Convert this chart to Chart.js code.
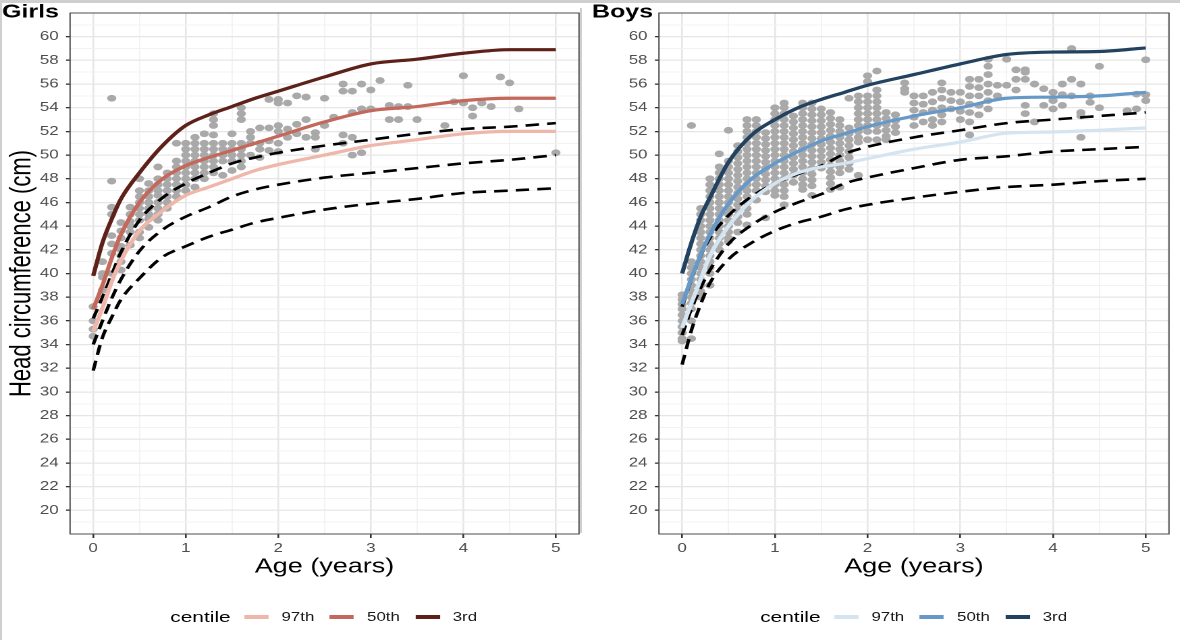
<!DOCTYPE html>
<html>
<head>
<meta charset="utf-8">
<script src="https://cdn.jsdelivr.net/npm/chart.js@4.4.1/dist/chart.umd.min.js"></script>
<style>
html, body { margin: 0; padding: 0; background: #fff; overflow: hidden; }
#page { position: absolute; left: 0; top: 0; width: 874px; height: 640px; transform: scaleX(1.35); transform-origin: 0 0; font-family: "Liberation Sans", Arial, sans-serif; }
.panel { position: absolute; top: 0; width: 437px; height: 640px; }
.legend { position: absolute; top: 605px; left: 57px; width: 377px; height: 24px; display: flex; justify-content: center; align-items: center; color: #1a1a1a; }
.legend .ttl { font-size: 15.5px; color: #000; margin-right: 10px; }
.legend .key { width: 18px; height: 4px; margin-right: 9.6px; }
.legend .lab { font-size: 12.5px; margin-right: 11.5px; }
.edge { position: absolute; background: #cfcfcf; }
</style>
</head>
<body>
<div id="page">
  <div class="panel" style="left:0"><canvas id="girls" width="437" height="640"></canvas><div class="legend" id="girlsLegend"></div></div>
  <div class="panel" style="left:437px"><canvas id="boys" width="437" height="640"></canvas><div class="legend" id="boysLegend"></div></div>
</div>
<div class="edge" style="left:0;top:0;width:1180px;height:3px"></div>
<div class="edge" style="left:0;top:0;width:1.5px;height:640px"></div>
<div class="edge" style="left:580px;top:8px;width:2px;height:525px"></div>
<script>
// ages at which the fitted centile / reference curves were read
const curveAges = [0, 0.1, 0.2, 0.3, 0.5, 0.75, 1, 1.25, 1.5, 1.75, 2, 2.5, 3, 3.5, 4, 4.5, 5]

const centileLabels = ['97th', '50th', '3rd']
const girlsColors = ['#efb6aa', '#c4685b', '#5e2119']
const boysColors = ['#d4e4f1', '#6699c8', '#22425f']

// girls fitted centiles (same order as centileLabels)
const girlsC97 = [35.1, 37.1, 39.3, 41.1, 43.6, 45.3, 46.6, 47.3, 48.0, 48.7, 49.2, 50.0, 50.8, 51.3, 51.8, 52.0, 52.0]
const girlsC50 = [37.0, 39.0, 41.3, 43.3, 46.0, 48.0, 49.1, 49.8, 50.4, 51.0, 51.6, 52.8, 53.75, 54.1, 54.6, 54.8, 54.8]
const girlsC3 = [39.8, 42.6, 44.6, 46.3, 48.5, 50.8, 52.5, 53.4, 54.1, 54.8, 55.4, 56.6, 57.7, 58.1, 58.6, 58.9, 58.9]
// girls reference (dashed)
const girlsRefHigh = [36.2, 38.0, 39.9, 41.8, 44.5, 46.4, 47.6, 48.5, 49.3, 49.8, 50.2, 50.8, 51.3, 51.8, 52.2, 52.4, 52.7]
const girlsRefMid = [34.0, 36.0, 37.9, 39.5, 41.9, 43.7, 44.8, 45.6, 46.5, 47.1, 47.5, 48.1, 48.5, 48.9, 49.3, 49.6, 50.0]
const girlsRefLow = [31.8, 34.6, 36.3, 37.8, 39.6, 41.4, 42.3, 43.1, 43.7, 44.3, 44.7, 45.4, 45.9, 46.3, 46.8, 47.0, 47.2]

// boys fitted centiles
const boysC97 = [35.4, 37.5, 39.5, 41.5, 44.0, 46.2, 47.6, 48.5, 49.0, 49.3, 49.7, 50.5, 51.1, 51.85, 51.95, 52.1, 52.3]
const boysC50 = [37.4, 39.6, 41.6, 43.3, 45.9, 48.0, 49.3, 50.3, 51.2, 51.8, 52.4, 53.3, 54.0, 54.8, 54.9, 55.0, 55.3]
const boysC3 = [40.0, 42.6, 44.8, 46.4, 49.4, 51.7, 53.0, 54.0, 54.7, 55.3, 55.9, 56.8, 57.7, 58.5, 58.7, 58.75, 59.05]
// boys reference (dashed)
const boysRefHigh = [37.2, 39.5, 41.5, 43.0, 44.9, 46.5, 47.6, 48.4, 49.1, 50.1, 50.7, 51.5, 52.1, 52.7, 53.0, 53.3, 53.6]
const boysRefMid = [34.8, 37.0, 38.8, 40.3, 42.5, 44.1, 45.2, 46.0, 46.7, 47.6, 48.1, 48.9, 49.6, 49.9, 50.3, 50.5, 50.7]
const boysRefLow = [32.3, 35.2, 37.4, 39.2, 41.2, 42.6, 43.6, 44.3, 44.8, 45.4, 45.8, 46.4, 46.9, 47.3, 47.5, 47.8, 48.0]

// observed measurements, grouped by age column
const girlsObsAges = [0.0, 0.1, 0.2, 0.3, 0.4, 0.5, 0.6, 0.7, 0.8, 0.9, 1.0, 1.1, 1.2, 1.3, 1.4, 1.5, 1.6, 1.7, 1.8, 1.9, 2.0, 2.1, 2.2, 2.3, 2.4, 2.5, 2.6, 2.7, 2.8, 2.9, 3.0, 3.1, 3.2, 3.3, 3.4, 3.5, 3.8, 3.9, 4.0, 4.1, 4.2, 4.3, 4.4, 4.5, 4.6, 5.0]
const girlsObs = [
  [37.2, 36.0, 35.3, 34.7],
  [41.0, 40.0, 39.7, 38.6],
  [54.8, 47.8, 45.6, 45.0, 43.2, 42.5, 41.7, 40.0],
  [44.3, 43.6, 43.0, 42.3, 42.0, 41.5, 41.0, 40.3],
  [45.6, 45.0, 44.4, 44.0, 43.5, 42.4],
  [48.0, 47.0, 46.5, 46.0, 45.5, 45.0, 44.5, 43.5, 43.0],
  [47.6, 47.0, 46.5, 46.0, 45.5, 45.0, 44.6, 43.9],
  [49.0, 48.0, 47.5, 47.0, 46.6, 46.0, 45.5, 45.0, 44.5],
  [48.5, 48.0, 47.5, 47.0, 46.5, 46.0, 45.5],
  [51.0, 49.5, 49.0, 48.5, 48.0, 47.5, 47.0, 46.5],
  [51.0, 50.5, 50.0, 49.5, 49.0, 48.5, 48.0, 47.5, 47.0],
  [51.5, 51.0, 50.5, 50.0, 49.5, 49.0, 48.5, 48.0, 47.3],
  [51.8, 51.0, 50.5, 50.0, 49.5, 49.0, 48.5, 48.0],
  [53.5, 53.0, 52.5, 51.7, 51.0, 50.5, 50.0, 49.5, 49.0, 48.5],
  [51.0, 50.5, 50.0, 49.5, 48.3],
  [51.8, 51.0, 50.5, 50.0, 49.5, 48.7],
  [54.0, 53.5, 53.0, 51.0, 50.5, 50.0, 49.5, 49.0],
  [52.0, 51.5, 51.0, 50.0],
  [52.3, 51.0, 50.5, 49.8],
  [54.7, 52.3, 51.2, 50.4],
  [54.7, 54.4, 52.5, 52.0, 51.0, 50.3],
  [54.4, 52.2, 51.5],
  [55.0, 52.6, 51.8],
  [54.9, 53.0, 51.5],
  [51.9, 51.5, 50.5],
  [54.8, 52.5],
  [53.2],
  [56.0, 55.4, 51.7, 51.0],
  [55.4, 53.6, 51.5, 50.0],
  [56.0, 53.9, 50.2],
  [55.5, 53.9],
  [56.3],
  [54.2, 53.0],
  [54.1, 53.0],
  [55.9, 54.1],
  [53.0],
  [52.5],
  [54.5],
  [56.7, 54.4],
  [54.0, 53.3],
  [54.4],
  [54.1],
  [56.6],
  [56.1],
  [53.9],
  [50.2]
]

const boysObsAges = [0.0, 0.1, 0.2, 0.3, 0.4, 0.5, 0.6, 0.7, 0.8, 0.9, 1.0, 1.1, 1.2, 1.3, 1.4, 1.5, 1.6, 1.7, 1.8, 1.9, 2.0, 2.1, 2.2, 2.3, 2.4, 2.5, 2.6, 2.7, 2.8, 2.9, 3.0, 3.1, 3.2, 3.3, 3.4, 3.5, 3.6, 3.7, 3.8, 3.9, 4.0, 4.1, 4.2, 4.3, 4.4, 4.5, 4.8, 4.9, 5.0]
const boysObs = [
  [38.2, 37.8, 37.4, 37.0, 36.5, 36.0, 35.5, 35.0, 34.5, 34.3],
  [52.5, 41.0, 40.5, 40.0, 39.5, 39.0, 38.5, 38.0, 37.5, 37.0, 36.0, 34.5],
  [45.5, 45.0, 44.5, 44.0, 43.5, 43.0, 42.5, 42.0, 41.5, 41.0, 40.5, 40.0, 39.5, 39.0, 38.5, 38.0],
  [48.0, 47.5, 47.0, 46.5, 46.0, 45.5, 45.0, 44.5, 44.0, 43.5, 43.0, 42.5, 42.0, 41.5, 41.0, 40.5, 40.0, 39.0],
  [50.1, 49.0, 48.5, 48.0, 47.5, 47.0, 46.5, 46.0, 45.5, 45.0, 44.5, 44.0, 43.5, 43.0, 42.5, 42.0],
  [52.1, 49.5, 49.0, 48.5, 48.0, 47.5, 47.0, 46.5, 46.0, 45.5, 45.0, 44.5, 44.0, 43.5, 43.0, 42.7],
  [50.8, 50.3, 49.8, 49.3, 48.8, 48.3, 47.8, 47.3, 46.8, 46.3, 45.8, 45.3, 44.8, 44.3, 43.5],
  [53.0, 52.5, 52.0, 51.5, 51.0, 50.5, 50.0, 49.5, 49.0, 48.5, 48.0, 47.5, 47.0, 46.5, 46.0, 45.5, 45.0, 44.1],
  [53.0, 52.5, 52.0, 51.5, 51.0, 50.5, 50.0, 49.5, 49.0, 48.5, 48.0, 47.5, 47.0, 46.2],
  [51.9, 51.4, 50.9, 50.4, 49.9, 49.4, 48.9, 48.4, 47.9, 47.4, 46.9, 44.7],
  [54.0, 53.5, 53.0, 52.5, 52.0, 51.5, 51.0, 50.5, 50.0, 49.5, 49.0, 48.5, 48.0, 47.5, 47.0, 46.6],
  [54.4, 54.0, 53.5, 53.0, 52.5, 52.0, 51.5, 51.0, 50.5, 50.0, 49.5, 49.0, 48.5, 48.0, 47.5, 47.0, 46.5, 45.8],
  [53.3, 52.8, 52.3, 51.8, 51.3, 50.8, 50.3, 49.8, 49.3, 48.8, 48.3, 47.7],
  [54.4, 54.0, 53.5, 53.0, 52.5, 52.0, 51.5, 51.0, 50.5, 50.0, 49.5, 49.0, 48.5, 48.0, 47.5, 47.1],
  [54.4, 53.9, 53.4, 52.9, 52.4, 51.9, 51.4, 50.9, 50.4, 49.9, 49.4, 48.9, 48.4, 47.9, 47.4, 46.6],
  [53.9, 53.4, 52.9, 52.4, 51.9, 51.4, 50.9, 50.4, 49.9, 49.4, 48.9],
  [53.6, 53.1, 52.6, 52.1, 51.6, 51.1, 50.6, 50.1, 49.6, 49.1, 48.6, 48.1, 47.6, 47.1],
  [53.0, 52.5, 52.0, 51.5, 51.0, 50.5, 50.0, 49.5, 49.0, 48.5, 47.3],
  [54.8, 52.3, 51.8, 51.3, 50.8, 50.3, 49.8, 49.3, 48.8],
  [55.0, 54.5, 54.0, 53.5, 53.0, 52.5, 52.0, 51.5, 51.1, 48.3],
  [56.7, 56.2, 55.0, 54.5, 54.0, 53.5, 53.0, 52.5, 52.0, 51.3],
  [57.1, 55.5, 55.0, 54.5, 54.0, 53.5, 53.0, 52.5, 52.0, 51.3],
  [53.6, 53.1, 52.6, 52.1, 51.6, 51.3],
  [53.4, 52.9, 52.4, 51.9],
  [56.1, 55.6, 55.3],
  [55.0, 54.4, 53.8, 53.2, 52.5],
  [55.0, 54.3, 53.6, 52.8],
  [55.3, 54.5, 53.8, 53.0, 52.5],
  [56.1, 55.5, 54.8, 54.0, 53.4, 52.8],
  [55.3, 54.6, 53.9],
  [55.3, 54.5, 53.7, 53.0],
  [56.4, 55.8, 55.0, 54.3, 53.6, 52.8, 51.7],
  [56.4, 55.7, 55.0, 54.2, 53.4],
  [58.1, 57.5, 56.8, 56.0, 55.3, 54.6, 53.9],
  [55.9, 55.0],
  [58.1, 55.9],
  [57.2, 56.4, 55.5],
  [57.2, 57.0, 56.4, 54.2, 53.5],
  [56.0, 52.8],
  [55.6, 54.2],
  [55.3, 54.6, 53.9],
  [56.0, 55.1, 54.2],
  [59.0, 56.4, 55.0],
  [56.0, 53.6, 53.3, 51.5],
  [55.0, 54.45],
  [57.5, 54.0],
  [53.75],
  [55.15, 53.9],
  [58.05, 55.1, 54.6]
]

const xTickValues = [0, 0.5, 1, 1.5, 2, 2.5, 3, 3.5, 4, 4.5, 5]
const yTickValues = []
for (let v = 19; v <= 61; v++) yTickValues.push(v)

const FONT = '"Liberation Sans", Arial, sans-serif'

function curve(vals) {
    return curveAges.map((a, i) => ({ x: a, y: vals[i] }))
}

function observed(ages, cols) {
    const pts = []
    ages.forEach((a, i) => cols[i].forEach(v => pts.push({ x: a, y: v })))
    return pts
}

const isMajorX = v => Number.isInteger(v)
const isMajorY = v => v % 2 === 0

// panel box and panel title like ggplot theme_bw
const panelDecor = {
    id: 'panelDecor',
    afterDatasetsDraw(chart, args, opts) {
        const { ctx, chartArea: a } = chart
        ctx.save()
        ctx.strokeStyle = '#4d4d4d'
        ctx.lineWidth = 1
        ctx.strokeRect(a.left, a.top, a.right - a.left, a.bottom - a.top)
        ctx.restore()
    },
    afterDraw(chart, args, opts) {
        const ctx = chart.ctx
        ctx.save()
        ctx.fillStyle = '#000'
        ctx.font = 'bold 18.5px ' + FONT
        ctx.textBaseline = 'alphabetic'
        ctx.fillText(opts.text, 1.5, 17.5)
        ctx.restore()
    }
}

function makeChart(id, title, colors, obsAges, obs, cents, refs, yAxisWidth, showYTitle) {
    const datasets = []
    cents.forEach((vals, i) => datasets.push({
        type: 'line', label: centileLabels[i], data: curve(vals),
        borderColor: colors[i], borderWidth: 3.2, pointRadius: 0,
        tension: 0.4, cubicInterpolationMode: 'monotone', fill: false, order: 0
    }))
    refs.forEach(vals => datasets.push({
        type: 'line', data: curve(vals),
        borderColor: '#000', borderWidth: 2.6, borderDash: [10, 6], pointRadius: 0,
        tension: 0.4, cubicInterpolationMode: 'monotone', fill: false, order: 1
    }))
    datasets.push({
        type: 'scatter', data: observed(obsAges, obs),
        backgroundColor: '#a9a9a9', borderWidth: 0, pointRadius: 3.4, order: 2
    })

    new Chart(document.getElementById(id), {
        type: 'scatter',
        data: { datasets: datasets },
        plugins: [panelDecor],
        options: {
            responsive: false,
            animation: false,
            devicePixelRatio: 2,
            events: [],
            layout: { padding: { top: 10, right: 8.1, left: 0, bottom: 0 } },
            plugins: {
                legend: { display: false },
                tooltip: { enabled: false },
                panelDecor: { text: title }
            },
            scales: {
                x: {
                    type: 'linear', min: -0.25, max: 5.25,
                    afterBuildTicks: s => { s.ticks = xTickValues.map(v => ({ value: v })) },
                    afterFit: s => { s.height = 106 },
                    border: { display: false },
                    grid: {
                        color: c => isMajorX(c.tick.value) ? '#e6e6e6' : '#f2f2f2',
                        lineWidth: c => isMajorX(c.tick.value) ? 1.3 : 0.9,
                        tickColor: c => isMajorX(c.tick.value) ? '#333' : 'rgba(0,0,0,0)',
                        tickLength: 4
                    },
                    ticks: {
                        autoSkip: false, maxRotation: 0, padding: 3,
                        color: '#4d4d4d', font: { family: FONT, size: 12.5 },
                        callback: v => isMajorX(v) ? String(v) : ''
                    },
                    title: {
                        display: true, text: 'Age (years)', color: '#000',
                        font: { family: FONT, size: 20 }, padding: { top: 0, bottom: 61 }
                    }
                },
                y: {
                    type: 'linear', min: 18, max: 62,
                    afterBuildTicks: s => { s.ticks = yTickValues.map(v => ({ value: v })) },
                    afterFit: s => { s.width = yAxisWidth },
                    border: { display: false },
                    grid: {
                        color: c => isMajorY(c.tick.value) ? '#e6e6e6' : '#f2f2f2',
                        lineWidth: c => isMajorY(c.tick.value) ? 1.3 : 0.9,
                        tickColor: c => isMajorY(c.tick.value) && c.tick.value >= 20 && c.tick.value <= 60 ? '#333' : 'rgba(0,0,0,0)',
                        tickLength: 3
                    },
                    ticks: {
                        autoSkip: false, padding: 5.5,
                        color: '#4d4d4d', font: { family: FONT, size: 12.5 },
                        callback: v => isMajorY(v) && v >= 20 && v <= 60 ? String(v) : ''
                    },
                    title: {
                        display: showYTitle, text: 'Head circumference (cm)', color: '#000',
                        font: { family: FONT, size: 22 }, padding: { top: 3, bottom: 0 }
                    }
                }
            }
        }
    })
}

function makeLegend(id, colors) {
    const el = document.getElementById(id)
    let html = '<span class="ttl">centile</span>'
    centileLabels.forEach((lab, i) => {
        html += '<span class="key" style="background:' + colors[i] + '"></span><span class="lab">' + lab + '</span>'
    })
    el.innerHTML = html
}

makeChart('girls', 'Girls', girlsColors, girlsObsAges, girlsObs,
    [girlsC97, girlsC50, girlsC3], [girlsRefHigh, girlsRefMid, girlsRefLow], 51.9, true)
makeChart('boys', 'Boys', boysColors, boysObsAges, boysObs,
    [boysC97, boysC50, boysC3], [boysRefHigh, boysRefMid, boysRefLow], 51.1, false)
makeLegend('girlsLegend', girlsColors)
makeLegend('boysLegend', boysColors)
</script>
</body>
</html>
